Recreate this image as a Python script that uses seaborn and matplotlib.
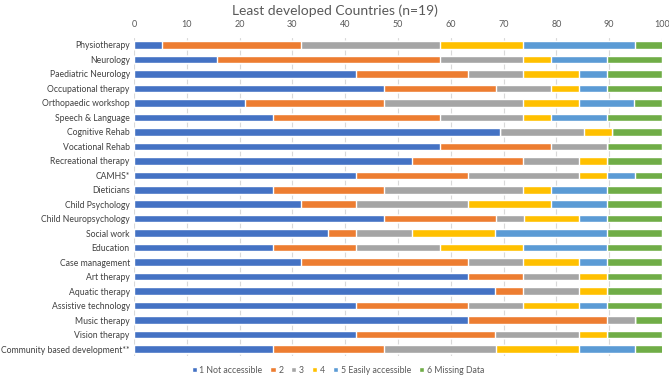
import numpy as np
import pandas as pd
import matplotlib.pyplot as plt
import seaborn as sns
from matplotlib.patches import Patch

services = ["Physiotherapy", "Neurology", "Paediatric Neurology", "Occupational therapy",
            "Orthopaedic workshop", "Speech & Language", "Cognitive Rehab", "Vocational Rehab",
            "Recreational therapy", "CAMHS*", "Dieticians", "Child Psychology",
            "Child Neuropsychology", "Social work", "Education", "Case management",
            "Art therapy", "Aquatic therapy", "Assistive technology", "Music therapy",
            "Vision therapy", "Community based development**"]

# percent of countries per rating
not_accessible = [5.3, 15.8, 42.1, 47.4, 21.1, 26.3, 69.4, 57.9, 52.6, 42.1, 26.3,
                  31.6, 47.4, 36.8, 26.3, 31.6, 63.2, 68.4, 42.1, 63.2, 42.1, 26.3]
r2 = [26.3, 42.1, 21.1, 21.1, 26.3, 31.6, 0.0, 21.1, 21.1, 21.1, 21.1,
      10.5, 21.1, 5.3, 15.8, 31.6, 10.5, 5.3, 21.1, 26.3, 26.3, 21.1]
r3 = [26.3, 15.8, 10.5, 10.5, 26.3, 15.8, 15.9, 10.5, 10.5, 21.1, 26.3,
      21.1, 5.3, 10.5, 15.8, 10.5, 10.5, 10.5, 10.5, 5.3, 15.8, 21.1]
r4 = [15.8, 5.3, 10.5, 5.3, 10.5, 5.3, 5.2, 0.0, 5.3, 5.3, 5.3,
      15.8, 10.5, 15.8, 15.8, 10.5, 5.3, 5.3, 10.5, 0.0, 5.3, 15.8]
easily_accessible = [21.1, 10.5, 5.3, 5.3, 10.5, 10.5, 0.0, 0.0, 0.0, 5.3, 10.5,
                     10.5, 5.3, 21.1, 15.8, 5.3, 0.0, 0.0, 5.3, 0.0, 0.0, 10.5]
missing = [5.3, 10.5, 10.5, 10.5, 5.3, 10.5, 9.5, 10.5, 10.5, 5.3, 10.5,
           10.5, 10.5, 10.5, 10.5, 10.5, 10.5, 10.5, 10.5, 5.3, 10.5, 5.3]

series_names = ["1 Not accessible", "2", "3", "4", "5 Easily accessible", "6 Missing Data"]
colors = ["#4472C4", "#ED7D31", "#A5A5A5", "#FFC000", "#5B9BD5", "#70AD47"]

df = pd.DataFrame({"service": services})
series = [not_accessible, r2, r3, r4, easily_accessible, missing]
cum = np.cumsum(np.array(series), axis=0)

sns.set_style("white")
plt.rcParams["font.family"] = ["Lato", "DejaVu Sans"]

fig = plt.figure(figsize=(6.69, 3.80), dpi=100)
ax = fig.add_axes([0.2003, 0.0625, 0.7892, 0.8382])

# stacked bars: draw cumulative totals from the right-most segment down
for k in range(len(series) - 1, -1, -1):
    df["val"] = cum[k]
    sns.barplot(data=df, x="val", y="service", color=colors[k], width=0.52,
                saturation=1, ax=ax, zorder=2)

ax.set_xlim(0, 100)
ax.set_xticks(range(0, 101, 10))
ax.xaxis.tick_top()
ax.tick_params(axis="x", length=0, pad=6, labelsize=6.5, labelcolor="#595959")
ax.tick_params(axis="y", length=0, pad=3, labelsize=6.2, labelcolor="#404040")
ax.grid(axis="x", color="#D9D9D9", linewidth=0.8, zorder=0)
ax.set_axisbelow(True)
ax.set_xlabel("")
ax.set_ylabel("")
for s in ax.spines.values():
    s.set_visible(False)

fig.text(0.5, 0.972, "Least developed Countries (n=19)", ha="center", va="center",
         fontsize=10, color="#595959")

handles = [Patch(facecolor=c, label=n) for c, n in zip(colors, series_names)]
fig.legend(handles=handles, loc="center", bbox_to_anchor=(0.505, 0.026), ncol=6,
           frameon=False, fontsize=6.3, handlelength=0.6, handleheight=0.6,
           handletextpad=0.3, columnspacing=0.9, labelcolor="#595959")

fig.savefig("out.png", dpi=100)
